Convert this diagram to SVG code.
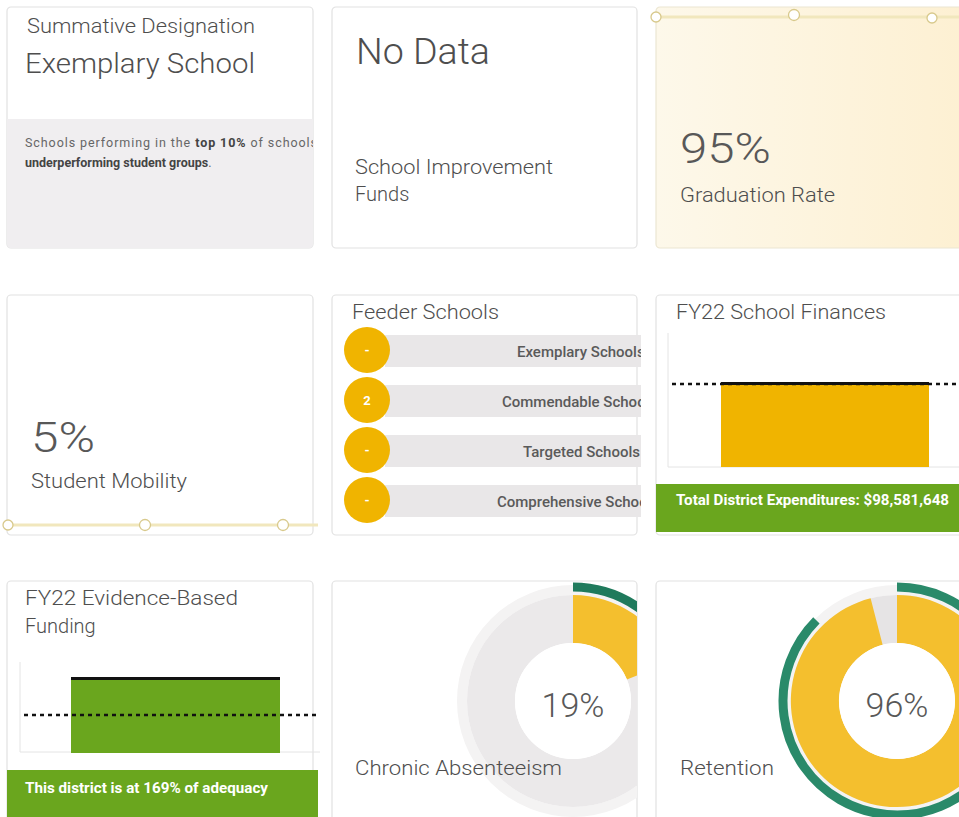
<svg xmlns="http://www.w3.org/2000/svg" width="959" height="817" viewBox="0 0 959 817">
<style>
.card{fill:#fff;stroke:#e2e2e2;stroke-width:1.2}
.t{font-family:Roboto,"Liberation Sans",sans-serif;fill:#585858}
.big{font-size:42px;font-weight:300}
.lbl{font-size:20px;font-weight:300;fill:#4e4e4e}
.hd{font-weight:300;fill:#4e4e4e}
.sm{font-size:12.5px;fill:#666}
.fl{font-size:15px;font-weight:500;fill:#5a5a5a}
.num{font-family:Roboto,"Liberation Sans",sans-serif;font-size:13px;font-weight:700;fill:#fff;text-anchor:middle}
.bar{fill:#e9e7e8}
.fc{fill:#f0b400}
.dash{stroke:#111;stroke-width:2.5;stroke-dasharray:4 4;fill:none}
.ban{font-family:Roboto,"Liberation Sans",sans-serif;font-size:14px;font-weight:700;fill:#fff}
.dot{fill:#fff;stroke:#d8c98c;stroke-width:1.3}
.tl{stroke:#f1e7bd;stroke-width:3}
</style>
<defs>
<linearGradient id="cream" x1="0" y1="0" x2="1" y2="0">
<stop offset="0" stop-color="#fdf8ea"/>
<stop offset="1" stop-color="#fdf0d2"/>
</linearGradient>
<clipPath id="c1"><rect x="7" y="7" width="306" height="241" rx="4"/></clipPath>
<clipPath id="c5"><rect x="332" y="295" width="309" height="240"/></clipPath>
<clipPath id="c8"><rect x="332" y="581" width="305" height="236"/></clipPath>
<clipPath id="c9"><rect x="656" y="581" width="303" height="236"/></clipPath>
</defs>
<rect width="959" height="817" fill="#fff"/>

<g id="summative">
<rect class="card" x="7" y="7" width="306" height="241" rx="4"/>
<g clip-path="url(#c1)">
<rect x="7" y="119" width="306" height="129" fill="#f0eef0"/>
<text class="t sm" x="25" y="147" textLength="292" lengthAdjust="spacing">Schools performing in the <tspan font-weight="700" fill="#444">top 10%</tspan> of schools</text>
<text class="t sm" x="25" y="167"><tspan font-weight="700" fill="#444">underperforming student groups</tspan>.</text>
</g>
<text class="t lbl" x="27" y="33" textLength="228" lengthAdjust="spacingAndGlyphs">Summative Designation</text>
<text class="t hd" x="25" y="73" font-size="28" textLength="230" lengthAdjust="spacingAndGlyphs">Exemplary School</text>
</g>

<g id="sif">
<rect class="card" x="332" y="7" width="305" height="241" rx="4"/>
<text class="t hd" x="356" y="64" font-size="36" textLength="134" lengthAdjust="spacingAndGlyphs">No Data</text>
<text class="t lbl" x="355" y="174" textLength="198" lengthAdjust="spacingAndGlyphs">School Improvement</text>
<text class="t lbl" x="355" y="201">Funds</text>
</g>

<g id="graduation">
<rect x="656" y="7" width="310" height="241" rx="4" fill="url(#cream)" stroke="#ece6d2" stroke-width="1.2"/>
<line class="tl" x1="656" y1="17" x2="959" y2="17"/>
<circle class="dot" cx="656" cy="17" r="5"/>
<circle class="dot" cx="794" cy="15" r="5.5"/>
<circle class="dot" cx="932" cy="18" r="5"/>
<text class="t big" x="680" y="163" textLength="91" lengthAdjust="spacingAndGlyphs">95%</text>
<text class="t lbl" x="680" y="202" textLength="155" lengthAdjust="spacingAndGlyphs">Graduation Rate</text>
</g>

<g id="mobility">
<rect class="card" x="7" y="295" width="306" height="240" rx="4"/>
<line class="tl" x1="7" y1="525" x2="318" y2="525"/>
<circle class="dot" cx="8" cy="525" r="5"/>
<circle class="dot" cx="145" cy="525" r="5.5"/>
<circle class="dot" cx="283" cy="525" r="5.5"/>
<text class="t big" x="31" y="452" textLength="64" lengthAdjust="spacingAndGlyphs">5%</text>
<text class="t lbl" x="31" y="488" textLength="156" lengthAdjust="spacingAndGlyphs">Student Mobility</text>
</g>

<g id="feeder">
<rect class="card" x="332" y="295" width="305" height="240" rx="4"/>
<text class="t lbl" x="352" y="319" textLength="147" lengthAdjust="spacingAndGlyphs">Feeder Schools</text>
<g clip-path="url(#c5)">
<rect class="bar" x="385" y="335" width="260" height="32"/>
<rect class="bar" x="385" y="385" width="260" height="32"/>
<rect class="bar" x="385" y="435" width="260" height="32"/>
<rect class="bar" x="385" y="485" width="260" height="32"/>
<text class="t fl" x="517" y="357">Exemplary Schools</text>
<text class="t fl" x="502" y="407">Commendable Schools</text>
<text class="t fl" x="523" y="457">Targeted Schools</text>
<text class="t fl" x="497" y="507">Comprehensive Schools</text>
</g>
<circle class="fc" cx="367" cy="350" r="23"/>
<circle class="fc" cx="367" cy="400" r="23"/>
<circle class="fc" cx="367" cy="450" r="23"/>
<circle class="fc" cx="367" cy="500" r="23"/>
<text class="num" x="367" y="355">-</text>
<text class="num" x="367" y="405">2</text>
<text class="num" x="367" y="455">-</text>
<text class="num" x="367" y="505">-</text>
</g>

<g id="finances">
<rect class="card" x="656" y="295" width="310" height="240" rx="4"/>
<text class="t lbl" x="676" y="319" textLength="210" lengthAdjust="spacingAndGlyphs">FY22 School Finances</text>
<path d="M668,333 V467 H959" fill="none" stroke="#e4e4e4" stroke-width="1"/>
<rect x="721" y="384" width="208" height="83" fill="#f0b400"/>
<line class="dash" x1="672" y1="384" x2="959" y2="384"/>
<line x1="721" y1="383.5" x2="929" y2="383.5" stroke="#111" stroke-width="3"/>
<rect x="656" y="484" width="303" height="48" fill="#6aa61e"/>
<text class="ban" x="676" y="505" textLength="273" lengthAdjust="spacingAndGlyphs">Total District Expenditures: $98,581,648</text>
</g>

<g id="ebf">
<rect class="card" x="7" y="581" width="306" height="240" rx="4"/>
<text class="t lbl" x="25" y="605" textLength="213" lengthAdjust="spacingAndGlyphs">FY22 Evidence-Based</text>
<text class="t lbl" x="25" y="633">Funding</text>
<path d="M20,662 V752 H320" fill="none" stroke="#e4e4e4" stroke-width="1"/>
<rect x="71" y="678" width="209" height="75" fill="#6aa61e"/>
<line x1="71" y1="678.5" x2="280" y2="678.5" stroke="#111" stroke-width="3"/>
<line class="dash" x1="24" y1="715" x2="320" y2="715"/>
<rect x="7" y="770" width="311" height="47" fill="#6aa61e"/>
<text class="ban" x="25" y="793" textLength="243" lengthAdjust="spacingAndGlyphs">This district is at 169% of adequacy</text>
</g>

<g id="absenteeism">
<rect class="card" x="332" y="581" width="305" height="240" rx="4"/>
<g clip-path="url(#c8)">
<circle cx="573" cy="701" r="111" fill="none" stroke="#f4f3f3" stroke-width="10"/>
<circle cx="573" cy="701" r="82" fill="none" stroke="#ebe9ea" stroke-width="48"/>
<path d="M573,595 A106,106 0 0 1 671.6,662 L626.9,679.6 A58,58 0 0 0 573,643 Z" fill="#f4bf2e"/>
<path d="M573,587 A114,114 0 0 1 679,659" fill="none" stroke="#1f7a5c" stroke-width="9"/>
<circle cx="573" cy="701" r="58" fill="#fff"/>
</g>
<text class="t" x="573" y="717" font-size="34" font-weight="300" text-anchor="middle">19%</text>
<text class="t lbl" x="355" y="775" textLength="207" lengthAdjust="spacingAndGlyphs">Chronic Absenteeism</text>
</g>

<g id="retention">
<rect class="card" x="656" y="581" width="310" height="240" rx="4"/>
<g clip-path="url(#c9)">
<circle cx="897" cy="701" r="111" fill="none" stroke="#f4f3f3" stroke-width="10"/>
<circle cx="897" cy="701" r="82" fill="none" stroke="#e6e4e5" stroke-width="48"/>
<path d="M897,595 A106,106 0 1 1 870.6,598.3 L882.6,644.8 A58,58 0 1 0 897,643 Z" fill="#f4bf2e"/>
<path d="M897,587 A114,114 0 1 1 816.4,620.4" fill="none" stroke="#2a8a6a" stroke-width="9"/>
<circle cx="897" cy="701" r="58" fill="#fff"/>
</g>
<text class="t" x="897" y="717" font-size="34" font-weight="300" text-anchor="middle">96%</text>
<text class="t lbl" x="680" y="775" textLength="94" lengthAdjust="spacingAndGlyphs">Retention</text>
</g>
</svg>
